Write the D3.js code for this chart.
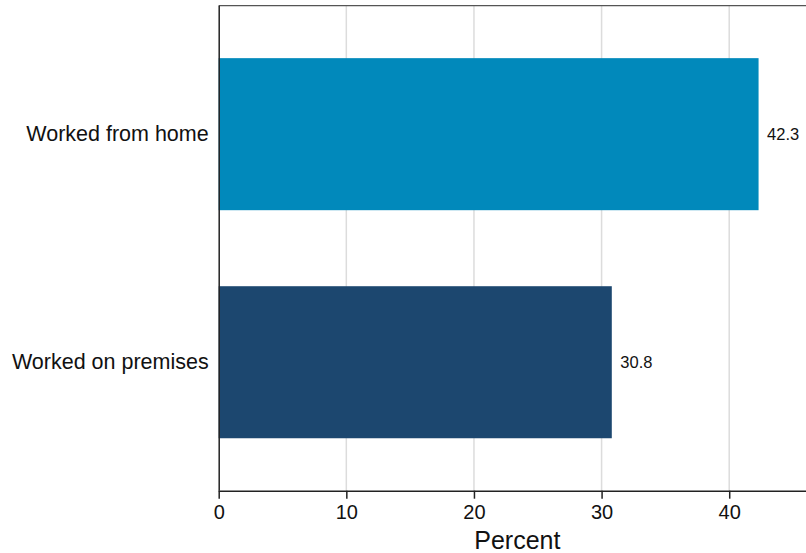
<!DOCTYPE html>
<html>
<head>
<meta charset="utf-8">
<script src="https://cdn.jsdelivr.net/npm/d3@7"></script>
<style>
  html, body { margin: 0; padding: 0; background: #fff; }
  svg { display: block; font-family: "Liberation Sans", Arial, Helvetica, sans-serif; }
</style>
</head>
<body>
<svg id="chart" width="806" height="553"></svg>
<script>
const categories = ["Worked from home", "Worked on premises"];
const values = [42.3, 30.8];
const barColors = ["#0189bb", "#1c476f"];
const xTicks = [0, 10, 20, 30, 40];
const xTitle = "Percent";

const svg = d3.select("#chart");
const pLeft = 218.7, pRight = 816, pTop = 5.7, pBottom = 490.7;

const x = d3.scaleLinear().domain([0, 46.8]).range([pLeft, pRight]);
const y = d3.scaleBand().domain(categories).range([pTop, pBottom])
  .paddingInner(1/3).paddingOuter(0.23).align(0.5);

// gridlines
svg.append("g").selectAll("line").data(xTicks.filter(d => d > 0)).join("line")
  .attr("x1", d => x(d)).attr("x2", d => x(d))
  .attr("y1", pTop).attr("y2", pBottom)
  .attr("stroke", "#dcdcdc").attr("stroke-width", 1.5);

// top frame line
svg.append("line").attr("x1", pLeft).attr("x2", 806).attr("y1", pTop).attr("y2", pTop)
  .attr("stroke", "#555").attr("stroke-width", 1.2);

// bars
svg.append("g").selectAll("rect").data(categories).join("rect")
  .attr("x", x(0))
  .attr("y", d => y(d))
  .attr("width", (d, i) => x(values[i]) - x(0))
  .attr("height", y.bandwidth())
  .attr("fill", (d, i) => barColors[i]);

// value labels
svg.append("g").selectAll("text").data(categories).join("text")
  .attr("x", (d, i) => x(values[i]) + 8.5)
  .attr("y", d => y(d) + y.bandwidth() / 2 + 6)
  .attr("font-size", 16.5)
  .attr("fill", "#111")
  .text((d, i) => values[i].toFixed(1));

// x axis
const xAxis = d3.axisBottom(x).tickValues(xTicks).tickSize(8).tickPadding(6).tickFormat(d3.format("d"));
const gx = svg.append("g").attr("transform", `translate(0,${pBottom})`).call(xAxis);
gx.select(".domain").attr("stroke", "#222").attr("stroke-width", 1.5)
  .attr("d", `M${pLeft},0.5H806`);
gx.selectAll(".tick line").attr("stroke", "#222").attr("stroke-width", 1.5);
gx.selectAll(".tick text").attr("font-size", 20).attr("fill", "#111")
  .attr("font-family", "'Liberation Sans', Arial, sans-serif");

// y axis
const yAxis = d3.axisLeft(y).tickSize(0).tickPadding(10);
const gy = svg.append("g").attr("transform", `translate(${pLeft},0)`).call(yAxis);
gy.select(".domain").attr("stroke", "#222").attr("stroke-width", 1.5)
  .attr("d", `M0.5,${pTop}V${pBottom}`);
gy.selectAll(".tick text").attr("font-size", 21.5).attr("fill", "#111")
  .attr("font-family", "'Liberation Sans', Arial, sans-serif");

// x title
svg.append("text")
  .attr("x", (pLeft + pRight) / 2)
  .attr("y", 549)
  .attr("text-anchor", "middle")
  .attr("font-size", 25)
  .attr("fill", "#111")
  .text(xTitle);
</script>
</body>
</html>
